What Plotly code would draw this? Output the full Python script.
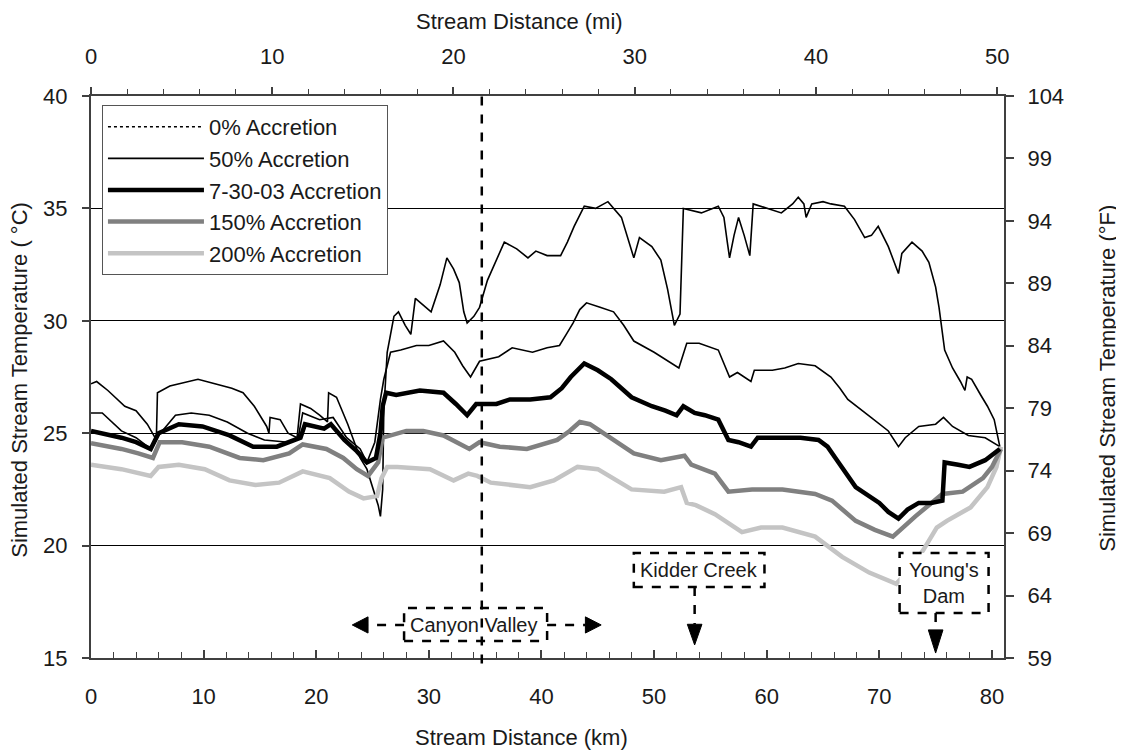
import plotly.graph_objects as go

KM_PER_MI = 1.609344

# ---------------- data (km, deg C) ----------------
acc0_km = [0.0, 0.5, 1.5, 3.0, 4.0, 5.0, 5.8, 5.9, 7.0, 8.5, 9.5, 11.0, 12.5, 13.5, 14.5, 15.6, 15.8, 15.9,
           16.8, 17.5, 18.3, 18.6, 19.5, 20.3, 21.0, 21.1, 21.8, 22.8, 23.5, 23.9, 24.5, 25.0, 25.5, 25.7,
           25.9, 26.0, 26.3, 26.9, 27.3, 27.9, 28.4, 28.8, 30.2, 31.0, 31.6, 32.2, 32.7, 33.1, 33.4, 34.0,
           34.5, 35.2, 36.2, 36.7, 37.8, 38.8, 39.5, 40.5, 41.7, 42.3, 42.9, 43.8, 44.8, 45.9, 47.1, 48.2,
           48.7, 49.8, 50.6, 51.2, 51.8, 52.3, 52.6, 53.5, 54.2, 55.7, 56.2, 56.5, 56.7, 57.1, 57.5, 58.0,
           58.5, 58.8, 60.0, 61.3, 62.3, 62.8, 63.3, 63.5, 64.0, 65.0, 65.7, 66.9, 67.8, 68.7, 69.3, 69.9,
           70.8, 71.7, 72.0, 72.9, 73.8, 74.4, 75.0, 75.3, 75.8, 76.5, 77.2, 77.6, 77.8, 78.2, 79.0, 79.6,
           80.2, 80.7]
acc0_c = [27.2, 27.3, 26.9, 26.2, 26.0, 25.4, 24.7, 26.8, 27.1, 27.3, 27.4, 27.2, 27.0, 26.8, 26.2, 25.3, 25.0, 25.7,
          25.6, 25.0, 24.8, 26.3, 26.1, 25.8, 25.5, 26.8, 26.6, 25.4, 24.5, 23.9, 23.4, 22.6, 21.8, 21.3,
          22.5, 26.0, 28.6, 30.2, 30.4, 29.8, 29.4, 31.0, 30.4, 31.6, 32.8, 32.3, 31.7, 30.4, 29.9, 30.2,
          30.6, 31.8, 32.9, 33.5, 33.2, 32.8, 33.1, 32.9, 32.9, 33.5, 34.2, 35.1, 35.0, 35.3, 34.6, 32.8,
          33.7, 33.3, 32.7, 31.4, 29.8, 30.3, 35.0, 34.9, 34.8, 35.1, 34.6, 33.5, 32.8, 33.8, 34.6, 33.8,
          32.9, 35.2, 35.0, 34.8, 35.2, 35.5, 35.2, 34.6, 35.2, 35.3, 35.2, 35.1, 34.5, 33.7, 33.8, 34.2,
          33.3, 32.1, 33.0, 33.5, 33.1, 32.6, 31.5, 30.6, 28.7, 27.9, 27.3, 26.9, 27.5, 27.4, 26.7, 26.2,
          25.6, 24.4]

acc50_km = [0.0, 1.0, 2.7, 4.0, 5.3, 5.6, 6.0, 7.5, 8.9, 10.5, 12.1, 13.9, 15.4, 17.5, 18.4, 18.8, 20.3, 21.5,
            22.7, 23.9, 24.5, 25.2, 25.7, 26.0, 26.6, 27.5, 28.9, 30.0, 31.3, 32.3, 33.0, 33.7, 34.5, 36.2,
            37.4, 39.2, 40.5, 41.6, 42.2, 42.8, 43.4, 44.0, 45.2, 46.4, 47.3, 48.2, 50.0, 51.2, 52.2, 52.9,
            54.0, 55.7, 56.2, 56.7, 57.4, 58.6, 58.9, 60.5, 61.6, 62.8, 64.3, 65.7, 66.5, 67.2, 69.0, 70.8,
            71.7, 72.3, 73.5, 75.0, 75.7, 76.5, 77.9, 79.4, 80.7]
acc50_c = [25.9, 25.9, 25.1, 24.8, 24.3, 24.5, 24.9, 25.8, 25.9, 25.8, 25.5, 25.0, 24.7, 24.6, 24.8, 25.9, 25.6, 25.7,
           24.8, 24.3, 23.7, 24.6, 26.5, 27.4, 28.6, 28.7, 28.9, 28.9, 29.1, 28.6, 28.0, 27.5, 28.2, 28.4,
           28.8, 28.6, 28.8, 28.9, 29.4, 29.9, 30.5, 30.8, 30.6, 30.4, 29.8, 29.1, 28.6, 28.2, 27.9, 29.0,
           29.0, 28.7, 28.1, 27.5, 27.7, 27.3, 27.8, 27.8, 27.9, 28.1, 28.0, 27.5, 27.0, 26.5, 25.8, 25.1,
           24.4, 24.8, 25.3, 25.4, 25.7, 25.3, 24.9, 24.8, 24.4]

acc73003_km = [0.0, 1.0, 2.7, 4.0, 5.3, 6.0, 7.8, 9.9, 12.3, 14.4, 16.5, 18.6, 19.0, 20.7, 21.3, 22.5, 23.6, 24.5,
               25.3, 25.7, 25.9, 26.2, 27.1, 29.2, 31.3, 32.4, 33.4, 34.2, 36.0, 37.2, 39.0, 40.8, 41.8, 42.6,
               43.8, 45.0, 46.2, 48.0, 49.8, 51.0, 52.0, 52.6, 53.6, 54.5, 55.7, 56.6, 57.5, 58.6, 59.2, 61.6,
               63.0, 64.6, 65.4, 66.1, 67.9, 70.0, 70.8, 71.7, 72.5, 73.5, 74.6, 75.6, 75.8, 77.0, 78.0, 79.4,
               80.7]
acc73003_c = [25.1, 25.0, 24.8, 24.6, 24.3, 25.0, 25.4, 25.3, 24.9, 24.4, 24.4, 24.8, 25.4, 25.2, 25.4, 24.7, 24.2, 23.7,
              23.9, 25.0, 26.2, 26.8, 26.7, 26.9, 26.8, 26.3, 25.8, 26.3, 26.3, 26.5, 26.5, 26.6, 27.0, 27.5,
              28.1, 27.8, 27.4, 26.6, 26.2, 26.0, 25.8, 26.2, 25.9, 25.8, 25.6, 24.7, 24.6, 24.4, 24.8, 24.8,
              24.8, 24.7, 24.4, 23.9, 22.6, 21.9, 21.5, 21.2, 21.6, 21.9, 21.9, 22.0, 23.7, 23.6, 23.5, 23.8,
              24.3]

acc150_km = [0.0, 2.7, 4.2, 5.5, 6.1, 8.1, 10.5, 13.2, 15.3, 17.6, 18.8, 20.9, 22.4, 23.6, 24.6, 25.5, 25.9,
             28.0, 29.5, 31.3, 33.6, 34.5, 36.3, 38.7, 41.4, 42.5, 43.4, 44.3, 45.8, 48.2, 50.6, 52.7, 53.3,
             55.4, 56.6, 58.7, 61.4, 64.3, 65.8, 67.9, 69.6, 71.2, 73.2, 75.6, 77.4, 79.2, 80.0, 80.8]
acc150_c = [24.55, 24.3, 24.1, 23.9, 24.6, 24.6, 24.4, 23.9, 23.8, 24.1, 24.5, 24.3, 23.9, 23.4, 23.1, 23.7, 24.8,
            25.1, 25.1, 24.9, 24.3, 24.6, 24.4, 24.3, 24.7, 25.1, 25.5, 25.4, 24.9, 24.1, 23.8, 24.0, 23.6,
            23.2, 22.4, 22.5, 22.5, 22.3, 22.0, 21.1, 20.7, 20.4, 21.3, 22.3, 22.4, 23.0, 23.5, 24.3]

acc200_km = [0.0, 2.7, 5.3, 6.0, 7.8, 10.1, 12.3, 14.6, 16.7, 18.8, 21.2, 22.9, 24.2, 25.4, 25.8, 26.3, 27.2,
             30.1, 32.2, 33.5, 34.3, 35.5, 39.0, 41.1, 43.2, 45.0, 48.0, 50.9, 52.4, 52.9, 53.7, 55.4, 57.8,
             59.5, 61.4, 64.3, 66.7, 69.1, 71.5, 72.8, 73.9, 75.1, 76.0, 78.1, 79.6, 80.4, 80.8]
acc200_c = [23.6, 23.4, 23.1, 23.5, 23.6, 23.4, 22.9, 22.7, 22.8, 23.3, 23.0, 22.4, 22.1, 22.2, 23.0, 23.5, 23.5,
            23.4, 22.9, 23.2, 23.1, 22.8, 22.6, 22.9, 23.5, 23.4, 22.5, 22.4, 22.6, 21.9, 21.8, 21.4, 20.6,
            20.8, 20.8, 20.4, 19.5, 18.8, 18.3, 19.0, 19.8, 20.8, 21.1, 21.7, 22.6, 23.5, 24.4]

series_names = ["0% Accretion", "50% Accretion", "7-30-03 Accretion", "150% Accretion", "200% Accretion"]

# axis settings
x_range_km = [0, 81.07]
x_range_mi = [x_range_km[0] / KM_PER_MI, x_range_km[1] / KM_PER_MI]
y_range_c = [15, 40]
y_range_f = [59, 104]
canyon_km = 34.7

FONT = "Liberation Sans, Arial, sans-serif"
TXT = "#1a1a1a"

fig = go.Figure()

# legend-only sample for the dotted 0% line
fig.add_trace(go.Scatter(x=[None], y=[None], mode="lines", name=series_names[0], legendrank=1,
                         line=dict(color="black", width=1.5, dash="dot")))
fig.add_trace(go.Scatter(x=acc0_km, y=acc0_c, mode="lines", name=series_names[0], showlegend=False,
                         line=dict(color="black", width=1.6)))
fig.add_trace(go.Scatter(x=acc50_km, y=acc50_c, mode="lines", name=series_names[1], legendrank=2,
                         line=dict(color="black", width=1.6)))
fig.add_trace(go.Scatter(x=acc200_km, y=acc200_c, mode="lines", name=series_names[4], legendrank=5,
                         line=dict(color="#c4c4c4", width=4.5)))
fig.add_trace(go.Scatter(x=acc150_km, y=acc150_c, mode="lines", name=series_names[3], legendrank=4,
                         line=dict(color="#808080", width=4.5)))
fig.add_trace(go.Scatter(x=acc73003_km, y=acc73003_c, mode="lines", name=series_names[2], legendrank=3,
                         line=dict(color="black", width=4.5)))
# invisible trace that activates the secondary (miles / deg F) axes
fig.add_trace(go.Scatter(x=x_range_mi, y=y_range_f, xaxis="x2", yaxis="y2", mode="markers",
                         marker=dict(opacity=0), showlegend=False, hoverinfo="skip"))

axis_col = "#404040"
tickfont = dict(family=FONT, size=22, color=TXT)

# page has an 8px body margin: figure is placed at (8,8)
fig.update_layout(
    width=1116, height=742,
    margin=dict(l=83, r=120, t=88, b=92),
    paper_bgcolor="white", plot_bgcolor="white",
    font=dict(family=FONT, size=22, color=TXT),
    showlegend=True,
    legend=dict(x=0.012, y=0.984, xanchor="left", yanchor="top",
                bordercolor="#555", borderwidth=1, bgcolor="white",
                font=dict(family=FONT, size=22, color=TXT),
                traceorder="normal", itemwidth=96),
    xaxis=dict(range=x_range_km, tickmode="linear", tick0=0, dtick=10,
               showline=True, linecolor=axis_col, linewidth=2, ticks="inside", ticklen=8,
               tickcolor=axis_col, tickwidth=1.5, ticklabelstandoff=18,
               minor=dict(dtick=2, ticks="inside", ticklen=6, tickcolor=axis_col, tickwidth=1),
               showgrid=False, zeroline=False, tickfont=tickfont),
    xaxis2=dict(range=x_range_mi, overlaying="x", side="top",
                tickmode="linear", tick0=0, dtick=10,
                showline=True, linecolor=axis_col, linewidth=1.5, ticks="outside", ticklen=7,
                tickcolor=axis_col, tickwidth=1.5, ticklabelstandoff=14,
                minor=dict(dtick=2, ticks="outside", ticklen=5, tickcolor=axis_col, tickwidth=1),
                showgrid=False, zeroline=False, tickfont=tickfont),
    yaxis=dict(range=y_range_c, tickmode="linear", tick0=15, dtick=5,
               showline=True, linecolor=axis_col, linewidth=2, ticks="outside", ticklen=7,
               tickcolor=axis_col, tickwidth=1.5, ticklabelstandoff=10,
               showgrid=True, gridcolor="black", gridwidth=1, zeroline=False, tickfont=tickfont),
    yaxis2=dict(range=y_range_f, overlaying="y", side="right", tickmode="linear", tick0=59, dtick=5,
                showline=True, linecolor=axis_col, linewidth=2, ticks="outside", ticklen=8,
                tickcolor=axis_col, tickwidth=1.5, ticklabelstandoff=9,
                showgrid=False, zeroline=False, tickfont=tickfont),
)

# axis titles
title_font = dict(family=FONT, size=22, color=TXT)
fig.add_annotation(x=0.472, y=-0.1406, xref="paper", yref="paper", text="Stream Distance (km)",
                   showarrow=False, font=title_font, xanchor="center", yanchor="middle")
fig.add_annotation(x=0.469, y=1.133, xref="paper", yref="paper", text="Stream Distance (mi)",
                   showarrow=False, font=title_font, xanchor="center", yanchor="middle")
fig.add_annotation(x=-0.0778, y=0.495, xref="paper", yref="paper", text="Simulated Stream Temperature ( °C)",
                   showarrow=False, font=title_font, textangle=-90, xanchor="center", yanchor="middle")
fig.add_annotation(x=1.114, y=0.497, xref="paper", yref="paper", text="Simulated Stream Temperature (°F)",
                   showarrow=False, font=title_font, textangle=-90, xanchor="center", yanchor="middle")

# annotation boxes (dashed, white filled)
def box(x0, x1, y0, y1):
    fig.add_shape(type="rect", xref="x", yref="y", x0=x0, x1=x1, y0=y0, y1=y1,
                  line=dict(color="black", width=2.5, dash="dash"), fillcolor="white", layer="above")

def dashed_seg(x0, y0, x1, y1):
    fig.add_shape(type="line", xref="x", yref="y", x0=x0, y0=y0, x1=x1, y1=y1,
                  line=dict(color="black", width=2.5, dash="dash"), layer="above")

def head_path(pts):
    d = "M " + " L ".join(f"{px},{py}" for px, py in pts) + " Z"
    fig.add_shape(type="path", xref="x", yref="y", path=d, fillcolor="black",
                  line=dict(color="black", width=1), layer="above")

# Canyon Valley box and horizontal arrows
box(27.8, 40.5, 15.76, 17.22)
dashed_seg(27.8, 16.47, 24.6, 16.47)
head_path([(23.2, 16.47), (24.6, 16.83), (24.6, 16.11)])
dashed_seg(40.5, 16.47, 43.9, 16.47)
head_path([(45.3, 16.47), (43.9, 16.83), (43.9, 16.11)])

# Kidder Creek
box(48.2, 59.8, 18.16, 19.67)
dashed_seg(53.6, 18.16, 53.6, 16.5)
head_path([(53.6, 15.58), (52.95, 16.5), (54.25, 16.5)])

# Young's Dam
box(71.8, 79.7, 17.0, 19.67)
dashed_seg(75.0, 17.0, 75.0, 16.25)
head_path([(75.0, 15.22), (74.35, 16.25), (75.65, 16.25)])

# vertical dashed line at Canyon/Valley boundary
fig.add_shape(type="line", xref="x", yref="paper", x0=canyon_km, x1=canyon_km, y0=-0.01, y1=1.005,
              line=dict(color="black", width=2.5, dash="dash"), layer="above")

ann_font = dict(family=FONT, size=20, color=TXT)
fig.add_annotation(x=34.0, y=16.47, xref="x", yref="y", text="Canyon Valley", showarrow=False, font=ann_font)
fig.add_annotation(x=54.0, y=18.91, xref="x", yref="y", text="Kidder Creek", showarrow=False, font=ann_font)
fig.add_annotation(x=75.75, y=18.35, xref="x", yref="y", text="Young's<br>Dam", showarrow=False, font=ann_font)

fig.write_html("out.html")
